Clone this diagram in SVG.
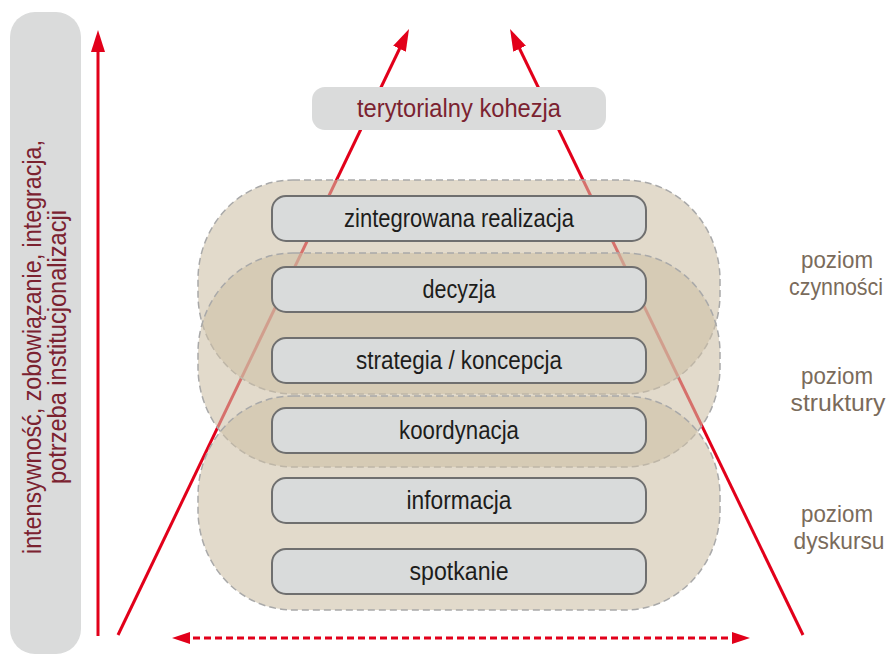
<svg xmlns="http://www.w3.org/2000/svg" width="893" height="654" viewBox="0 0 893 654">
  <style>
    .t { font-family: "Liberation Sans Narrow", "Liberation Sans", Arial, sans-serif; font-size: 25px; text-anchor: middle; }
    .box rect { fill: #d9dbdb; stroke: #6f6f6f; stroke-width: 2; }
    .box text { fill: #1d1d1b; }
    .lvl { fill: #cdc0a6; fill-opacity: 0.586; stroke: #a9a9a9; stroke-width: 1.5; stroke-dasharray: 7 4; }
    .side { fill: #7a6b5b; font-size: 24px; }
    .mar { fill: #7b2230; }
    .arr { stroke: #e2001a; stroke-width: 3; fill: none; }
  </style>
  <defs>
    <marker id="head" markerUnits="userSpaceOnUse" markerWidth="24" markerHeight="16" refX="12" refY="7" orient="auto" viewBox="0 0 24 14">
      <path d="M0,0 L22,7 L0,14 z" fill="#e2001a"/>
    </marker>
    <marker id="head2" markerUnits="userSpaceOnUse" markerWidth="20" markerHeight="14" refX="8" refY="6" orient="auto-start-reverse" viewBox="0 0 20 12">
      <path d="M0,0 L18,6 L0,12 z" fill="#e2001a"/>
    </marker>
  </defs>

  <g id="axis-label">
    <rect x="10" y="12" width="71" height="642" rx="25" fill="#dadbdb"/>
    <text class="t mar" transform="translate(41,347) rotate(-90)" textLength="414" lengthAdjust="spacingAndGlyphs">intensywność, zobowiązanie, integracja,</text>
    <text class="t mar" transform="translate(66,347) rotate(-90)" textLength="274" lengthAdjust="spacingAndGlyphs">potrzeba institucjonalizacji</text>
  </g>

  <g id="connectors">
    <line class="arr" x1="98" y1="636" x2="98" y2="40" marker-end="url(#head)"/>
    <line class="arr" x1="118" y1="635" x2="404.7" y2="38" marker-end="url(#head)"/>
    <line class="arr" x1="803" y1="635" x2="514.4" y2="38" marker-end="url(#head)"/>
    <line class="arr" x1="182" y1="638" x2="740" y2="638" stroke-dasharray="7 4" marker-start="url(#head2)" marker-end="url(#head2)"/>
  </g>

  <g id="level-czynnosci">
    <rect class="lvl" x="198" y="180" width="522" height="214" rx="95" ry="100"/>
  </g>
  <g id="level-struktury">
    <rect class="lvl" x="198" y="253" width="522" height="214" rx="95" ry="100"/>
  </g>
  <g id="level-dyskursu">
    <rect class="lvl" x="198" y="396" width="522" height="214" rx="95" ry="100"/>
  </g>

  <g id="cohesion">
    <rect x="312" y="87" width="294" height="43" rx="13" fill="#dadbdb"/>
    <text class="t mar" x="459" y="117" textLength="204" lengthAdjust="spacingAndGlyphs">terytorialny kohezja</text>
  </g>

  <g id="n-zintegrowana" class="box">
    <rect x="272" y="196" width="374" height="45" rx="14"/>
    <text class="t" x="459" y="227" textLength="230" lengthAdjust="spacingAndGlyphs">zintegrowana realizacja</text>
  </g>
  <g id="n-decyzja" class="box">
    <rect x="272" y="267" width="374" height="45" rx="14"/>
    <text class="t" x="459" y="298" textLength="73" lengthAdjust="spacingAndGlyphs">decyzja</text>
  </g>
  <g id="n-strategia" class="box">
    <rect x="272" y="338" width="374" height="45" rx="14"/>
    <text class="t" x="459" y="369" textLength="206" lengthAdjust="spacingAndGlyphs">strategia / koncepcja</text>
  </g>
  <g id="n-koordynacja" class="box">
    <rect x="272" y="408" width="374" height="45" rx="14"/>
    <text class="t" x="459" y="439" textLength="120" lengthAdjust="spacingAndGlyphs">koordynacja</text>
  </g>
  <g id="n-informacja" class="box">
    <rect x="272" y="478" width="374" height="45" rx="14"/>
    <text class="t" x="459" y="509" textLength="105" lengthAdjust="spacingAndGlyphs">informacja</text>
  </g>
  <g id="n-spotkanie" class="box">
    <rect x="272" y="549" width="374" height="45" rx="14"/>
    <text class="t" x="459" y="580" textLength="99" lengthAdjust="spacingAndGlyphs">spotkanie</text>
  </g>

  <g id="label-czynnosci">
    <text class="t side" x="837" y="268" textLength="72" lengthAdjust="spacingAndGlyphs">poziom</text>
    <text class="t side" x="836" y="295" textLength="94" lengthAdjust="spacingAndGlyphs">czynności</text>
  </g>
  <g id="label-struktury">
    <text class="t side" x="837" y="384" textLength="72" lengthAdjust="spacingAndGlyphs">poziom</text>
    <text class="t side" x="838" y="411" textLength="95" lengthAdjust="spacingAndGlyphs">struktury</text>
  </g>
  <g id="label-dyskursu">
    <text class="t side" x="837" y="522" textLength="72" lengthAdjust="spacingAndGlyphs">poziom</text>
    <text class="t side" x="839" y="549" textLength="91" lengthAdjust="spacingAndGlyphs">dyskursu</text>
  </g>
</svg>
